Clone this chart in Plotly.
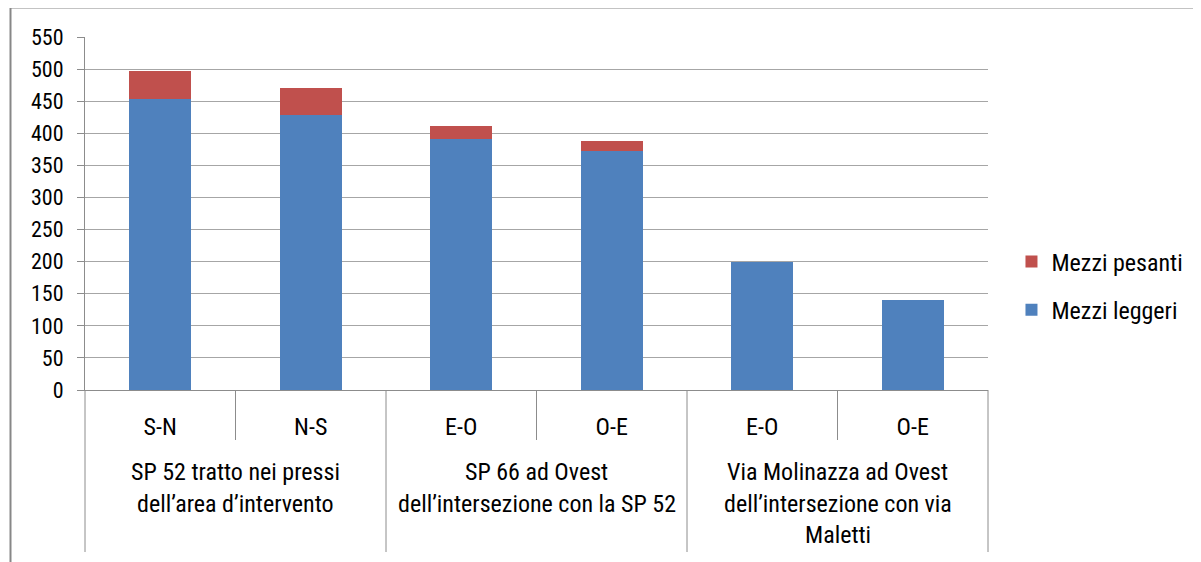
import plotly.graph_objects as go

groups = [
    ["SP 52 tratto nei pressi", "dell\u2019area d\u2019intervento"],
    ["SP 66 ad Ovest", "dell\u2019intersezione con la SP 52"],
    ["Via Molinazza ad Ovest", "dell\u2019intersezione con via", "Maletti"],
]
directions = ["S-N", "N-S", "E-O", "O-E", "E-O", "O-E"]
leggeri = [453, 428, 391, 372, 200, 140]
pesanti = [44, 43, 20, 16, 0, 0]

FONT = "Liberation Sans Narrow, Roboto Condensed, Roboto, sans-serif"
BLUE = "#4F81BD"
RED = "#C0504D"
GRID = "#A6A6A6"
AXIS = "#8C8C8C"

xpos = list(range(len(directions)))
n = len(directions)

fig = go.Figure()
fig.add_bar(x=xpos, y=leggeri, name="Mezzi leggeri", marker_color=BLUE,
            marker_line_width=0, width=0.41, legendgroup="b", legendrank=2)
fig.add_bar(x=xpos, y=pesanti, name="Mezzi pesanti", marker_color=RED,
            marker_line_width=0, width=0.41, legendgroup="a", legendrank=1)

def xp(v):
    return (v + 0.5) / n

shapes = []
for b in [0.5, 2.5, 4.5]:
    shapes.append(dict(type="line", xref="paper", yref="paper", x0=xp(b), x1=xp(b),
                       y0=0, y1=-0.1416, line=dict(color=AXIS, width=1)))
for b in [-0.5, 1.5, 3.5, 5.5]:
    shapes.append(dict(type="line", xref="paper", yref="paper", x0=xp(b), x1=xp(b),
                       y0=0, y1=-0.459, line=dict(color=AXIS, width=1)))
shapes.append(dict(type="rect", xref="paper", yref="paper", x0=-0.0825, x1=1.5,
                   y0=-0.8, y1=1.0835, line=dict(color="#878787", width=2)))

annotations = []
line_px = 31.5
for gi, lines in enumerate(groups):
    cx = xp(2 * gi + 0.5)
    for li, txt in enumerate(lines):
        annotations.append(dict(text=txt, xref="paper", yref="paper", x=cx, y=0,
                                xanchor="center", yanchor="middle", showarrow=False,
                                yshift=-(82 + li * line_px),
                                font=dict(family=FONT, size=24, color="#000000")))

fig.update_layout(
    width=1193, height=554,
    margin=dict(l=77, r=213, t=29, b=172),
    paper_bgcolor="white", plot_bgcolor="white",
    barmode="stack",
    font=dict(family=FONT, size=24, color="#000000"),
    showlegend=True,
    legend=dict(x=1.026, y=0.295, xanchor="left", yanchor="middle",
                traceorder="grouped", tracegroupgap=14,
                font=dict(family=FONT, size=24, color="#000000"),
                bgcolor="rgba(0,0,0,0)"),
    shapes=shapes,
    annotations=annotations,
    xaxis=dict(range=[-0.5, n - 0.5], tickmode="array", tickvals=xpos, ticktext=directions,
               ticks="", showgrid=False, zeroline=False, showline=True, linecolor=AXIS,
               linewidth=1, ticklabelstandoff=15, tickfont=dict(size=24), fixedrange=True),
    yaxis=dict(range=[0, 550], dtick=50, tick0=0, showgrid=True, gridcolor=GRID,
               gridwidth=1, zeroline=False, showline=True, linecolor=AXIS, linewidth=1,
               ticks="outside", ticklen=7, tickcolor=AXIS, ticklabelstandoff=9,
               tickfont=dict(size=22), fixedrange=True),
)

fig.write_html("out.html")
